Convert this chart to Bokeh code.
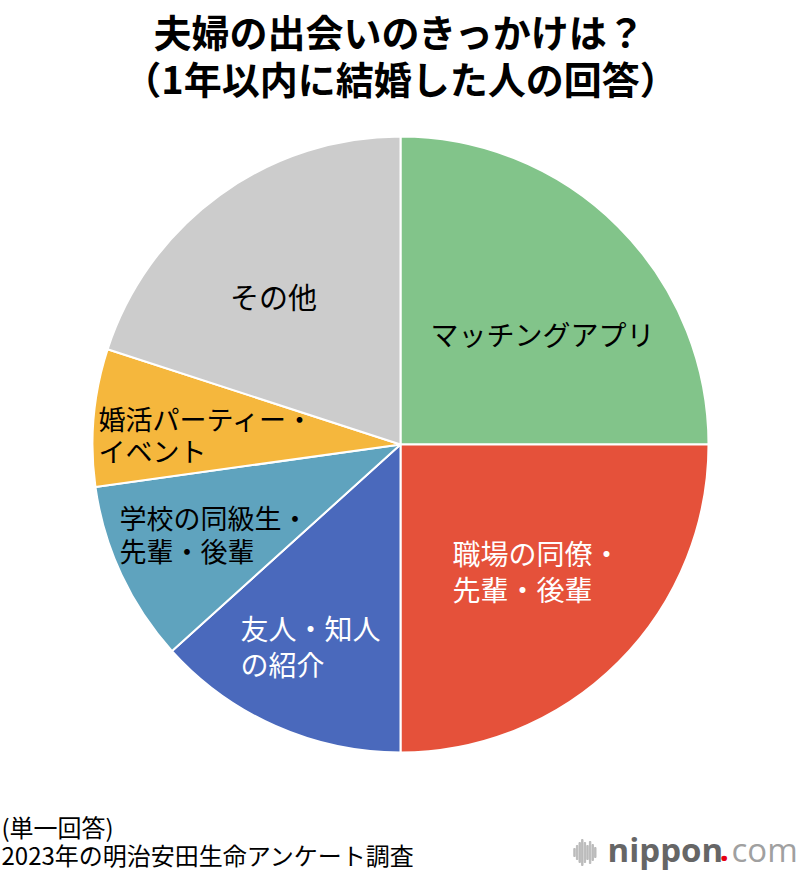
import numpy as np
from bokeh.plotting import figure
from bokeh.models import Range1d, ColumnDataSource
from bokeh.core.properties import value
from bokeh.embed import file_html
from bokeh.resources import INLINE

# ---- data ----
categories = ["マッチングアプリ", "職場の同僚・先輩・後輩", "友人・知人の紹介",
              "学校の同級生・先輩・後輩", "婚活パーティー・イベント", "その他"]
shares = [25.0, 25.0, 13.3, 9.5, 7.2, 20.0]
colors = ["#82C48A", "#E5513A", "#4A69BC", "#5FA3BE", "#F5B73D", "#CCCCCC"]
label_lines = [["マッチングアプリ"], ["職場の同僚・", "先輩・後輩"], ["友人・知人", "の紹介"],
               ["学校の同級生・", "先輩・後輩"], ["婚活パーティー・", "イベント"], ["その他"]]
label_colors = ["black", "white", "white", "black", "black", "black"]

title_lines = ["夫婦の出会いのきっかけは？", "（1年以内に結婚した人の回答）"]
note_lines = ["(単一回答)", "2023年の明治安田生命アンケート調査"]

W, H = 800, 874
def X(xi):
    return xi
def Y(yi):
    return H - yi

p = figure(width=W, height=H, output_backend="svg", toolbar_location=None,
           x_range=Range1d(0, W), y_range=Range1d(0, H), min_border=0)
p.axis.visible = False
p.grid.visible = False
p.outline_line_color = None
p.background_fill_color = "white"
p.border_fill_color = "white"

# ---- pie ----
vals = np.array(shares)
frac = vals / vals.sum()
cum = np.concatenate([[0], np.cumsum(frac)])
start = np.pi / 2 - cum[:-1] * 2 * np.pi
end = np.pi / 2 - cum[1:] * 2 * np.pi
src = ColumnDataSource(dict(cat=categories, start=start, end=end, color=colors))
cx, cy, r = X(400), Y(444), 308
p.wedge(x=cx, y=cy, radius=r, start_angle="start", end_angle="end", direction="clock",
        fill_color="color", line_color="white", line_width=2, source=src)

# ---- slice labels (layout positions) ----
label_pos = [(430, 333, 28, 36, "left"), (452, 552, 28, 36, "left"), (240, 627, 28, 36, "left"),
             (119, 517, 27, 33, "left"), (98, 418, 27, 32, "left"), (273, 295, 29, 0, "center")]
for lines, col, (lx, ly, fs, lh, al) in zip(label_lines, label_colors, label_pos):
    for i, t in enumerate(lines):
        p.text(x=[X(lx)], y=[Y(ly + i * lh)], text=[t], text_color=col,
               text_font=value("Noto Sans CJK JP"), text_font_size=f"{fs}px",
               text_align=al, text_baseline="middle")

# ---- title ----
for i, t in enumerate(title_lines):
    p.text(x=[X(400)], y=[Y(30 + i * 47)], text=[t], text_color="black",
           text_font=value("Noto Sans CJK JP"), text_font_size="38px", text_font_style="bold",
           text_align="center", text_baseline="middle")

# ---- notes ----
for i, t in enumerate(note_lines):
    p.text(x=[X(1)], y=[Y(826 + i * 28)], text=[t], text_color="black",
           text_font=value("Noto Sans CJK JP"), text_font_size="24px",
           text_align="left", text_baseline="middle")

# ---- nippon.com logo ----
bar_h = [8, 14, 20, 26, 20, 14, 22, 16, 10]
bx = X(574) + np.arange(len(bar_h)) * 2.6
p.vbar(x=bx, top=Y(852) + np.array(bar_h) / 2, bottom=Y(852) - np.array(bar_h) / 2,
       width=1.4, color="#BBBBBB")
p.text(x=[X(607)], y=[Y(849)], text=["nippon"], text_color="#666666",
       text_font=value("Open Sans"), text_font_size="33px", text_font_style="bold",
       text_align="left", text_baseline="middle")
p.text(x=[X(719)], y=[Y(849)], text=["."], text_color="#E60012",
       text_font=value("Open Sans"), text_font_size="33px", text_font_style="bold",
       text_align="left", text_baseline="middle")
p.text(x=[X(731)], y=[Y(849)], text=["com"], text_color="#A0A0A0",
       text_font=value("Open Sans"), text_font_size="33px",
       text_align="left", text_baseline="middle")

open("out.html", "w").write(file_html(p, INLINE))
